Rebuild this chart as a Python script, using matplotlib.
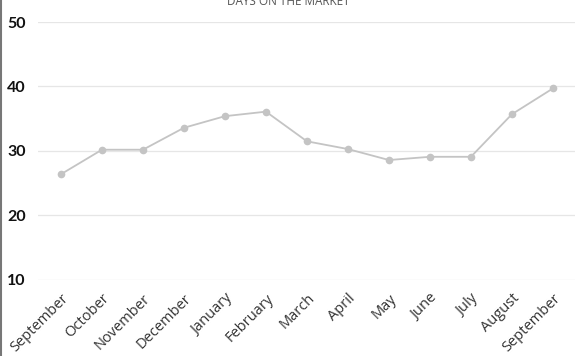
import matplotlib
matplotlib.use("Agg")
import matplotlib.pyplot as plt
from matplotlib.lines import Line2D

# data
months = ["September", "October", "November", "December", "January", "February",
          "March", "April", "May", "June", "July", "August", "September"]
days = [26.4, 30.2, 30.2, 33.6, 35.4, 36.1, 31.5, 30.3, 28.6, 29.1, 29.1, 35.7, 39.7]
yticks = [10, 20, 30, 40, 50]

fig = plt.figure(figsize=(5.77, 3.56), dpi=100)
ax = fig.add_axes([0.0659, 0.2135, 0.9307, 0.7247])

x = list(range(len(months)))
ax.plot(x, days, color="#c4c4c4", lw=1.3, marker="o", ms=4.5,
        markerfacecolor="#c4c4c4", markeredgecolor="#c4c4c4", zorder=3)

ax.set_xlim(-0.56, 12.54)
ax.set_ylim(10, 50)
ax.set_yticks(yticks)
ax.set_yticklabels([str(v) for v in yticks], fontsize=11.5, fontweight="bold",
                   family="Lato", color="#111111")
ax.set_xticks(x)
ax.set_xticklabels(months, rotation=45, ha="right", rotation_mode="anchor",
                   fontsize=10.5, family="Open Sans", color="#333333")
ax.tick_params(axis="both", length=0)
ax.tick_params(axis="y", pad=9)
ax.tick_params(axis="x", pad=8)

ax.grid(axis="y", color="#e6e6e6", lw=0.9)
ax.set_axisbelow(True)
for s in ax.spines.values():
    s.set_visible(False)

# title cut off at top edge, as in the source
fig.text(0.5, 1 - 1.5 / 356, "DAYS ON THE MARKET", ha="center", va="center",
         fontsize=8.5, color="#555555", family="Open Sans")

# grey border on left edge
fig.add_artist(Line2D([0.001, 0.001], [0, 1], transform=fig.transFigure,
                      color="#777777", lw=1.5))

fig.savefig("out.png", dpi=100)
